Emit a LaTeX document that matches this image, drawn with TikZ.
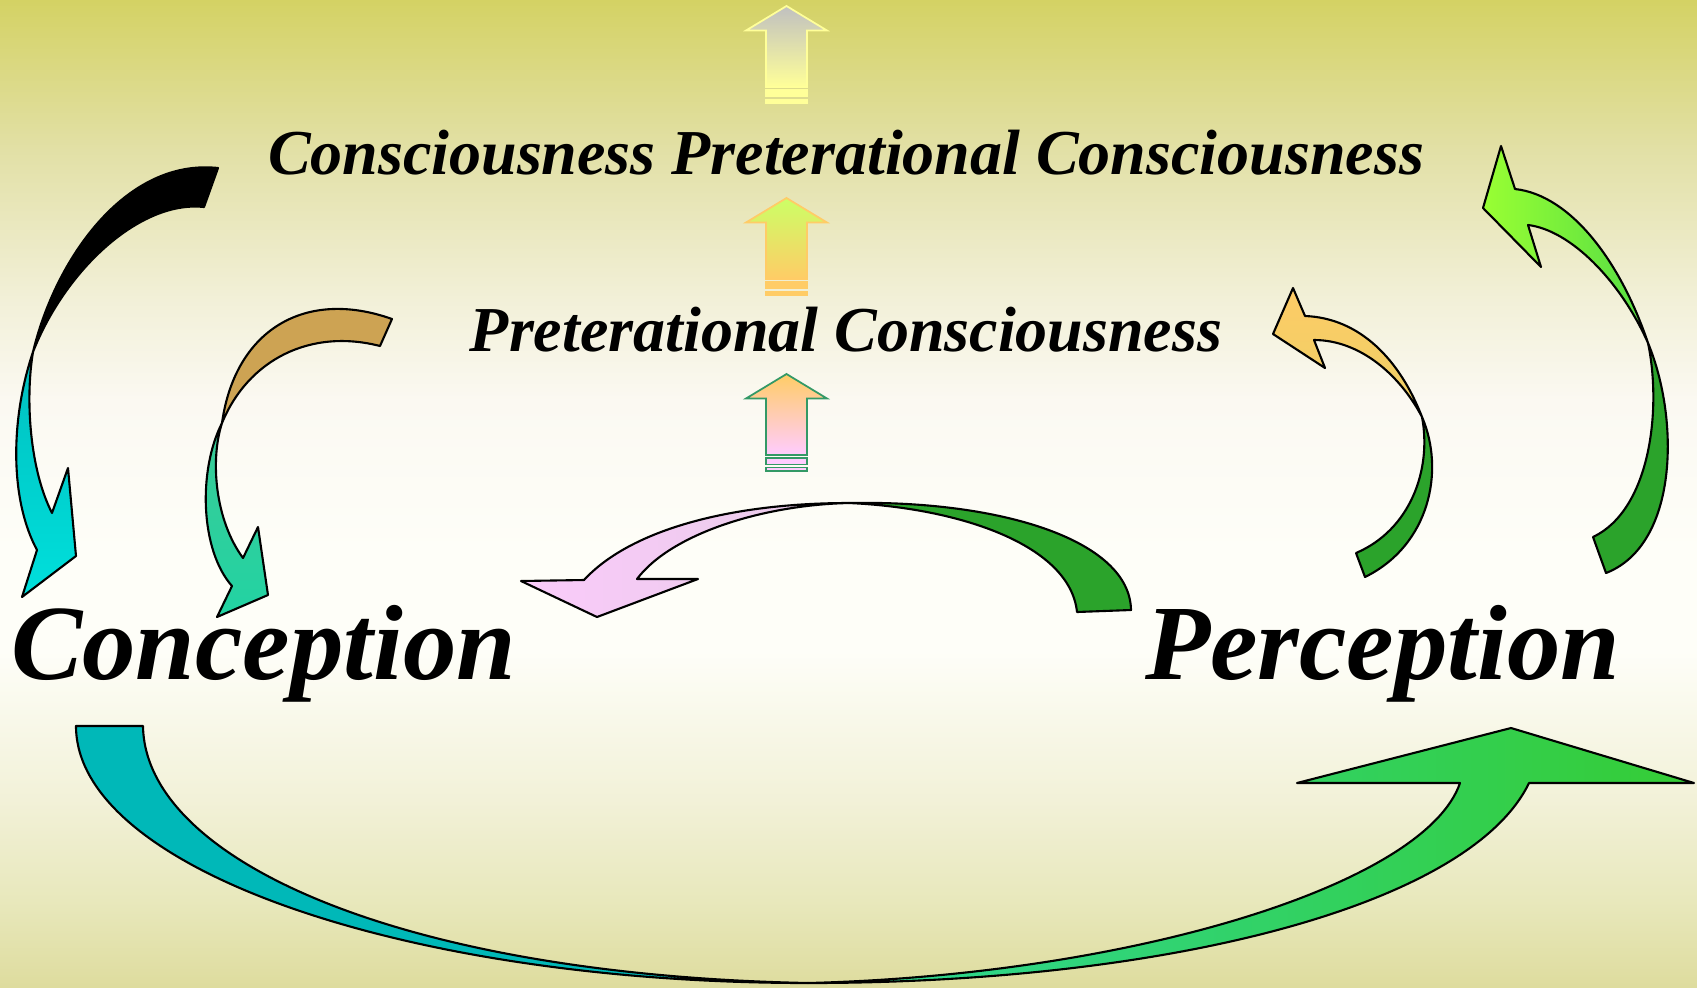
\documentclass[tikz,border=0pt]{standalone}
\usepackage{fontspec}
\setmainfont{Liberation Serif}

\definecolor{bgTop}{HTML}{D4D264}
\definecolor{bgA}{HTML}{E2E0A6}
\definecolor{bgB}{HTML}{F2F0D8}
\definecolor{bgC}{HTML}{FBF9F2}
\definecolor{bgMid}{HTML}{FEFEF8}
\definecolor{bgD}{HTML}{F2F1D8}
\definecolor{bgE}{HTML}{E8E8BC}
\definecolor{bgBottom}{HTML}{DEDC9E}
\definecolor{upGray}{HTML}{C0C0C0}
\definecolor{upPale}{HTML}{FFFF99}
\definecolor{upLime}{HTML}{CCFF66}
\definecolor{upOrange}{HTML}{FFCC66}
\definecolor{upPink}{HTML}{FFCCFF}
\definecolor{upGreen}{HTML}{339966}
\definecolor{darkGreen}{HTML}{2BA32B}
\definecolor{tan}{HTML}{CDA353}
\definecolor{cyanTop}{HTML}{00BFBF}
\definecolor{cyanBot}{HTML}{00E0DC}
\definecolor{seaTop}{HTML}{3ACB96}
\definecolor{seaBot}{HTML}{22D3A3}
\definecolor{pinkL}{HTML}{FACBFA}
\definecolor{pinkR}{HTML}{E8CCE8}
\definecolor{orangeTop}{HTML}{FDCB66}
\definecolor{orangeBot}{HTML}{EDD166}
\definecolor{limeL}{HTML}{99FF33}
\definecolor{limeR}{HTML}{55DD44}
\definecolor{teal}{HTML}{00B8B8}
\definecolor{grassL}{HTML}{2ED89A}
\definecolor{grassR}{HTML}{35CC35}

\pgfdeclareverticalshading{backfade}{100bp}{color(0bp)=(bgBottom); color(25bp)=(bgBottom);
  color(29.4bp)=(bgE); color(34.5bp)=(bgD); color(42bp)=(bgMid); color(47bp)=(bgMid);
  color(54.7bp)=(bgC); color(59.8bp)=(bgB); color(67.4bp)=(bgA); color(75bp)=(bgTop);
  color(100bp)=(bgTop)}

\begin{document}
\begin{tikzpicture}
[x=0.01cm,y=-0.01cm,
%%%%%%%%%%%%%%%%%%%%%%%%%%%%%%
levelText/.style={font=\bfseries\itshape\fontsize{18.2}{21}\selectfont, inner sep=0pt, anchor=base},
poleText/.style={font=\bfseries\itshape\fontsize{30.4}{34}\selectfont, inner sep=0pt, anchor=base},
band/.style={draw=black, line width=0.6pt, line join=round},
uparrow/.style={line width=0.5pt, line join=miter},
]%%%%%%%%%%%%%%%%%%%%%%%%%%%%%%

\useasboundingbox (0,0) rectangle (1697,987);
\shade[shading=backfade] (0,0) rectangle (1697,987);

% straight arrows up the middle
\foreach \ty/\topc/\botc/\edgec in {6/upGray/upPale/upPale,198/upLime/upOrange/upOrange,374/upOrange/upPink/upGreen}{
\shadedraw[uparrow, top color=\topc, bottom color=\botc, draw=\edgec]
  (786.5,\ty) -- (827,\ty+24.5) -- (807,\ty+24.5) -- (807,\ty+81)
  -- (766,\ty+81) -- (766,\ty+24.5) -- (746,\ty+24.5) -- cycle;
\filldraw[uparrow, fill=\botc, draw=\edgec] (766,\ty+84) rectangle (807,\ty+90.5);
\filldraw[uparrow, fill=\botc, draw=\edgec] (766,\ty+93.5) rectangle (807,\ty+97);
}

% big left arrow
\filldraw[band, fill=black]
  (33,352) .. controls (55,260) and (125,158) .. (218,168) -- (204,207)
  .. controls (140,200) and (65,270) .. (33,352) -- cycle;
\shadedraw[band, top color=cyanTop, bottom color=cyanBot]
  (33,352) .. controls (10,420) and (10,500) .. (37,550)
  -- (22,597) -- (76,556) -- (68,468) -- (52,513)
  .. controls (30,470) and (25,400) .. (33,352) -- cycle;

% small left arrow
\filldraw[band, fill=tan]
  (222,423) .. controls (235,330) and (305,288) .. (392,319) -- (380,346)
  .. controls (310,328) and (248,360) .. (222,423) -- cycle;
\shadedraw[band, top color=seaTop, bottom color=seaBot]
  (222,423) .. controls (198,470) and (200,550) .. (232,586)
  -- (217,617) -- (268,595) -- (258,527) -- (243,558)
  .. controls (215,520) and (210,460) .. (222,423) -- cycle;

% middle arrow
\filldraw[band, fill=darkGreen]
  (849,503) .. controls (1000,500) and (1130,540) .. (1131,610) -- (1077,612)
  .. controls (1070,545) and (960,508) .. (849,503) -- cycle;
\shadedraw[band, left color=pinkL, right color=pinkR]
  (849,503) .. controls (730,503) and (630,530) .. (584,580)
  -- (521,581) -- (597,617) -- (698,579) -- (637,579)
  .. controls (670,535) and (760,505) .. (849,503) -- cycle;

% small right arrow
\filldraw[band, fill=darkGreen]
  (1422,417) .. controls (1445,470) and (1430,545) .. (1365,577) -- (1356,553)
  .. controls (1410,530) and (1432,470) .. (1422,417) -- cycle;
\shadedraw[band, top color=orangeTop, bottom color=orangeBot]
  (1422,417) .. controls (1400,360) and (1360,318) .. (1305,316)
  -- (1293,288) -- (1273,334) -- (1325,368) -- (1314,340)
  .. controls (1360,340) and (1400,375) .. (1422,417) -- cycle;

% big right arrow
\filldraw[band, fill=darkGreen]
  (1648,343) .. controls (1680,420) and (1678,545) .. (1606,573) -- (1593,537)
  .. controls (1650,510) and (1662,410) .. (1648,343) -- cycle;
\shadedraw[band, left color=limeL, right color=limeR]
  (1648,343) .. controls (1620,260) and (1570,195) .. (1515,189)
  -- (1501,146) -- (1483,208) -- (1541,267) -- (1528,225)
  .. controls (1570,230) and (1620,280) .. (1648,343) -- cycle;

% bottom arrow
\filldraw[band, fill=teal]
  (76,726) .. controls (76,868) and (404,983) .. (808,983)
  .. controls (400,975) and (145,860) .. (143,726) -- cycle;
\shadedraw[band, left color=grassL, right color=grassR]
  (808,983) .. controls (1170,983) and (1470,905) .. (1529,783)
  -- (1694,783) -- (1511,728) -- (1297,783) -- (1460,783)
  .. controls (1425,885) and (1130,975) .. (808,983) -- cycle;

\node[levelText] (upper) at (846,174) {Consciousness Preterational Consciousness};
\node[levelText] (lower) at (846,351) {Preterational Consciousness};
\node[poleText] (conception) at (263.5,679) {Conception};
\node[poleText] (perception) at (1382.5,679) {Perception};
\end{tikzpicture}
\end{document}
